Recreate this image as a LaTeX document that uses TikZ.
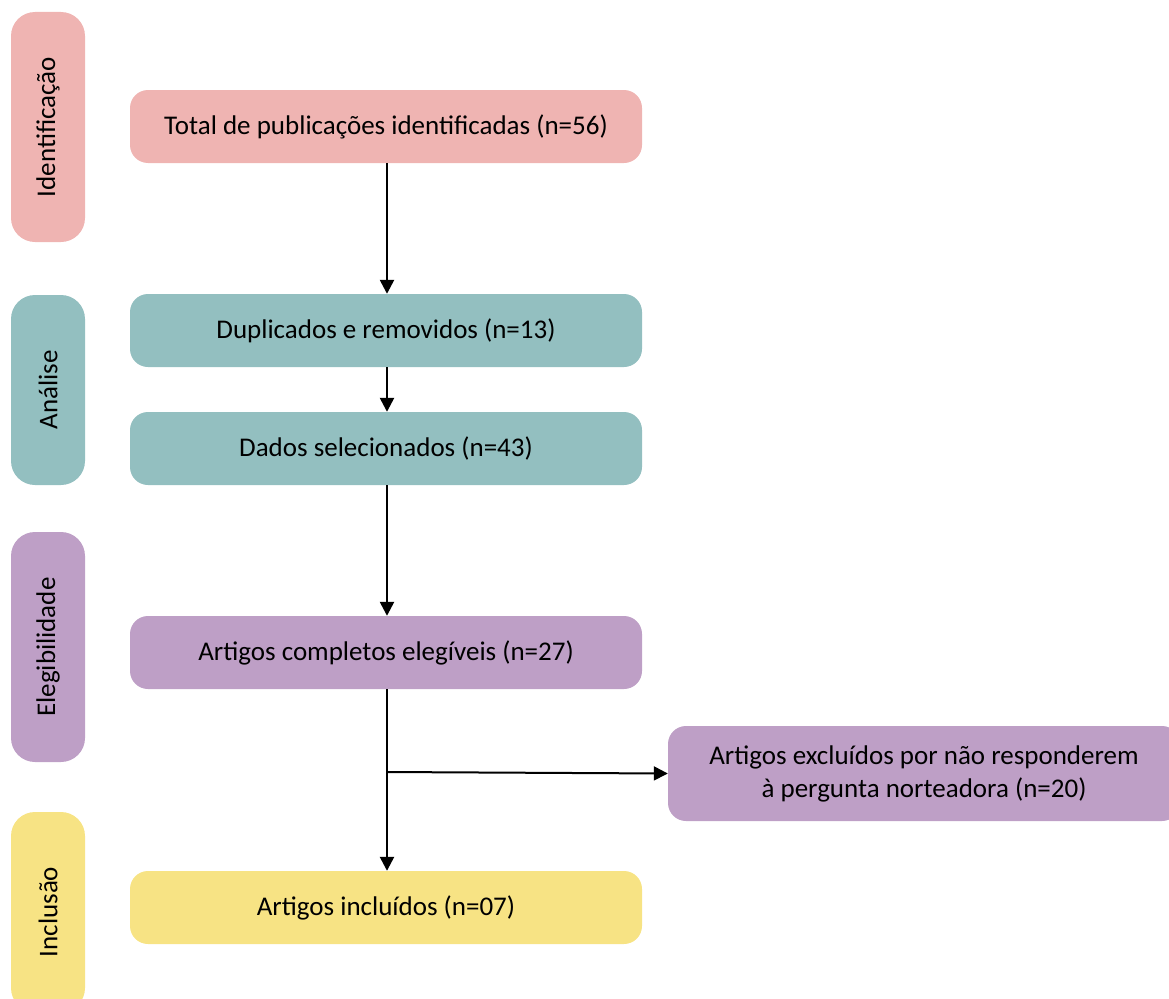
\documentclass[tikz,border=0pt]{standalone}
\usepackage{fontspec}
\setmainfont{Carlito}
\usetikzlibrary{arrows.meta}
\definecolor{pinkc}{HTML}{EFB4B2}
\definecolor{tealc}{HTML}{93BFC0}
\definecolor{purpc}{HTML}{BE9FC6}
\definecolor{yelc}{HTML}{F7E384}
\begin{document}
\begin{tikzpicture}[x=1pt,y=-1pt,
  mainbox/.style={rectangle, rounded corners=18pt, draw=none, minimum width=512pt, minimum height=73pt, inner sep=0pt, align=center, font=\fontsize{27}{33}\selectfont},
  sidebox/.style={rectangle, rounded corners=24pt, draw=none, rotate=90, minimum height=74pt, inner sep=0pt, font=\fontsize{27}{33}\selectfont},
  arr/.style={line width=2.5pt, -{Triangle[length=14pt,width=14pt]}}
]
\useasboundingbox (0,0) rectangle (1169,998);
\clip (0,0) rectangle (1169,998);
% side labels
\node[sidebox, fill=pinkc, minimum width=230pt] (sid) at (48,127) {Identificação};
\node[sidebox, fill=tealc, minimum width=190pt] (san) at (48,390) {Análise};
\node[sidebox, fill=purpc, minimum width=230pt] (sel) at (48,647) {Elegibilidade};
\node[sidebox, fill=yelc, minimum width=200pt] (sin) at (48,912) {Inclusão};
% main boxes
\node[mainbox, fill=pinkc] (total) at (386,126.5) {Total de publicações identificadas (n=56)};
\node[mainbox, fill=tealc] (dup) at (386,330.5) {Duplicados e removidos (n=13)};
\node[mainbox, fill=tealc] (dados) at (386,448.5) {Dados selecionados (n=43)};
\node[mainbox, fill=purpc] (comp) at (386,652.5) {Artigos completos elegíveis (n=27)};
\node[mainbox, fill=yelc] (incl) at (386,907.5) {Artigos incluídos (n=07)};
\node[mainbox, fill=purpc, minimum width=512pt, minimum height=95pt] (excl) at (924,773.5) {Artigos excluídos por não responderem\\à pergunta norteadora (n=20)};
% connectors
\draw[arr] (total.south -| 387,0) -- (dup.north -| 387,0);
\draw[arr] (dup.south -| 387,0) -- (dados.north -| 387,0);
\draw[arr] (dados.south -| 387,0) -- (comp.north -| 387,0);
\draw[arr] (comp.south -| 387,0) -- (incl.north -| 387,0);
\coordinate (br) at (387,772);
\draw[line width=2pt, -{Triangle[length=14pt,width=14pt]}] (br) -- (excl.west);
\end{tikzpicture}
\end{document}
